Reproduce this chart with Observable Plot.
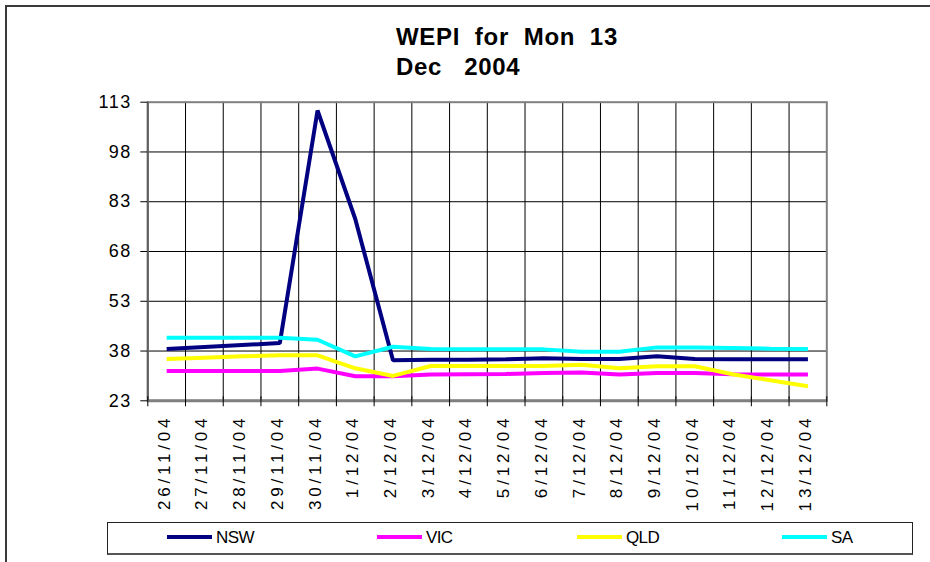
<!DOCTYPE html>
<html><head><meta charset="utf-8">
<script src="https://cdn.jsdelivr.net/npm/d3@7"></script>
<script src="https://cdn.jsdelivr.net/npm/@observablehq/plot@0.6"></script>
<style>
html,body{margin:0;padding:0;background:#fff;}
#wrap{position:relative;width:930px;height:562px;overflow:hidden;font-family:"Liberation Sans",Arial,sans-serif;}
#chart{position:absolute;left:0;top:0;}
#border{position:absolute;left:5px;top:5px;width:940px;height:570px;border-left:2px solid #3a3a3a;border-top:2px solid #3a3a3a;}
#title{position:absolute;left:396px;top:22px;font-weight:bold;font-size:24px;line-height:30px;white-space:pre;letter-spacing:0.7px;color:#000;}
#legend{position:absolute;left:107px;top:522px;width:804px;height:30px;border:1px solid #222;border-bottom:2px solid #555;}
.sw{position:absolute;top:12px;width:45px;height:4px;}
.lt{position:absolute;top:6px;font-size:17px;line-height:17px;letter-spacing:-0.6px;color:#000;white-space:nowrap;}
</style>
</head><body>
<div id="wrap">
  <div id="border"></div>
  <div id="chart"></div>
  <div id="title">WEPI  for  Mon  13
Dec   2004</div>
  <div id="legend"></div>
</div>
<script>
const categories = ["26/11/04","27/11/04","28/11/04","29/11/04","30/11/04","1/12/04","2/12/04","3/12/04","4/12/04","5/12/04","6/12/04","7/12/04","8/12/04","9/12/04","10/12/04","11/12/04","12/12/04","13/12/04"];
const yTicks = [23, 38, 53, 68, 83, 98, 113];
const seriesNames = ["NSW", "VIC", "QLD", "SA"];
const seriesColors = ["#000080", "#FF00FF", "#FFFF00", "#00FFFF"];
const nsw = [38.6, 39.2, 39.8, 40.4, 110.5, 77.8, 35.2, 35.4, 35.4, 35.5, 35.8, 35.6, 35.6, 36.4, 35.6, 35.5, 35.5, 35.5];
const vic = [32.0, 32.0, 32.0, 32.0, 32.7, 30.4, 30.4, 30.9, 31.0, 31.1, 31.4, 31.5, 30.9, 31.4, 31.4, 31.0, 30.9, 30.9];
const qld = [35.6, 36.0, 36.4, 36.7, 36.7, 32.8, 30.5, 33.5, 33.5, 33.5, 33.5, 33.9, 32.8, 33.4, 33.4, 31.0, 29.2, 27.4];
const sa  = [42.0, 42.0, 42.0, 42.0, 41.4, 36.4, 39.3, 38.6, 38.5, 38.5, 38.5, 37.8, 37.8, 39.1, 39.1, 38.9, 38.7, 38.6];
const seriesValues = [nsw, vic, qld, sa];

const boundaries = d3.range(categories.length + 1);
const xc = (d, i) => i + 0.5;

const plot = Plot.plot({
  width: 930, height: 515,
  marginLeft: 147.3, marginRight: 103.7, marginTop: 101.7, marginBottom: 114.7,
  x: {domain: [0, categories.length], axis: null},
  y: {domain: [yTicks[0], yTicks[yTicks.length - 1]], axis: null},
  style: {fontFamily: "'Liberation Sans', Arial, sans-serif", background: "transparent", overflow: "visible", color: "#000"},
  marks: [
    Plot.ruleY(yTicks.slice(1, -1), {stroke: "#000", strokeWidth: 1}),
    Plot.ruleX(boundaries.slice(1, -1), {stroke: "#000", strokeWidth: 1}),
    Plot.frame({stroke: "#808080", strokeWidth: 2}),
    Plot.ruleY([yTicks[0]], {stroke: "#808080", strokeWidth: 3}),
    Plot.ruleX([0], {stroke: "#606060", strokeWidth: 2}),
    Plot.ruleX(boundaries, {y1: yTicks[0], y2: yTicks[0], insetTop: -4, insetBottom: -6, stroke: "#000", strokeWidth: 1}),
    Plot.ruleY(yTicks, {x1: 0, x2: 0, insetLeft: -7, stroke: "#000", strokeWidth: 1}),
    ...seriesValues.map((vals, k) => Plot.line(vals, {x: xc, y: d => d, stroke: seriesColors[k], strokeWidth: 4, strokeLinejoin: "miter", strokeLinecap: "butt"})),
    Plot.text(yTicks, {frameAnchor: "left", y: d => d, text: d => String(d), textAnchor: "end", dx: -16, fontSize: 18, fill: "#000"}),
    Plot.text(categories, {x: xc, frameAnchor: "bottom", text: d => d, rotate: -90, textAnchor: "end", lineAnchor: "bottom", dx: 3, dy: 14, fontSize: 17, fill: "#000"})
  ]
});
document.getElementById("chart").appendChild(plot);
const textGroups = plot.querySelectorAll('g[aria-label="text"]');
if (textGroups[0]) textGroups[0].style.letterSpacing = "1.5px";
if (textGroups[1]) textGroups[1].style.letterSpacing = "3.8px";

const legend = document.getElementById("legend");
const legendOffsets = [59, 269, 469, 674];
seriesNames.forEach((name, k) => {
  const sw = document.createElement("div");
  sw.className = "sw";
  sw.style.left = legendOffsets[k] + "px";
  sw.style.background = seriesColors[k];
  legend.appendChild(sw);
  const lt = document.createElement("div");
  lt.className = "lt";
  lt.style.left = (legendOffsets[k] + 49) + "px";
  lt.textContent = name;
  legend.appendChild(lt);
});
</script>
</body></html>
